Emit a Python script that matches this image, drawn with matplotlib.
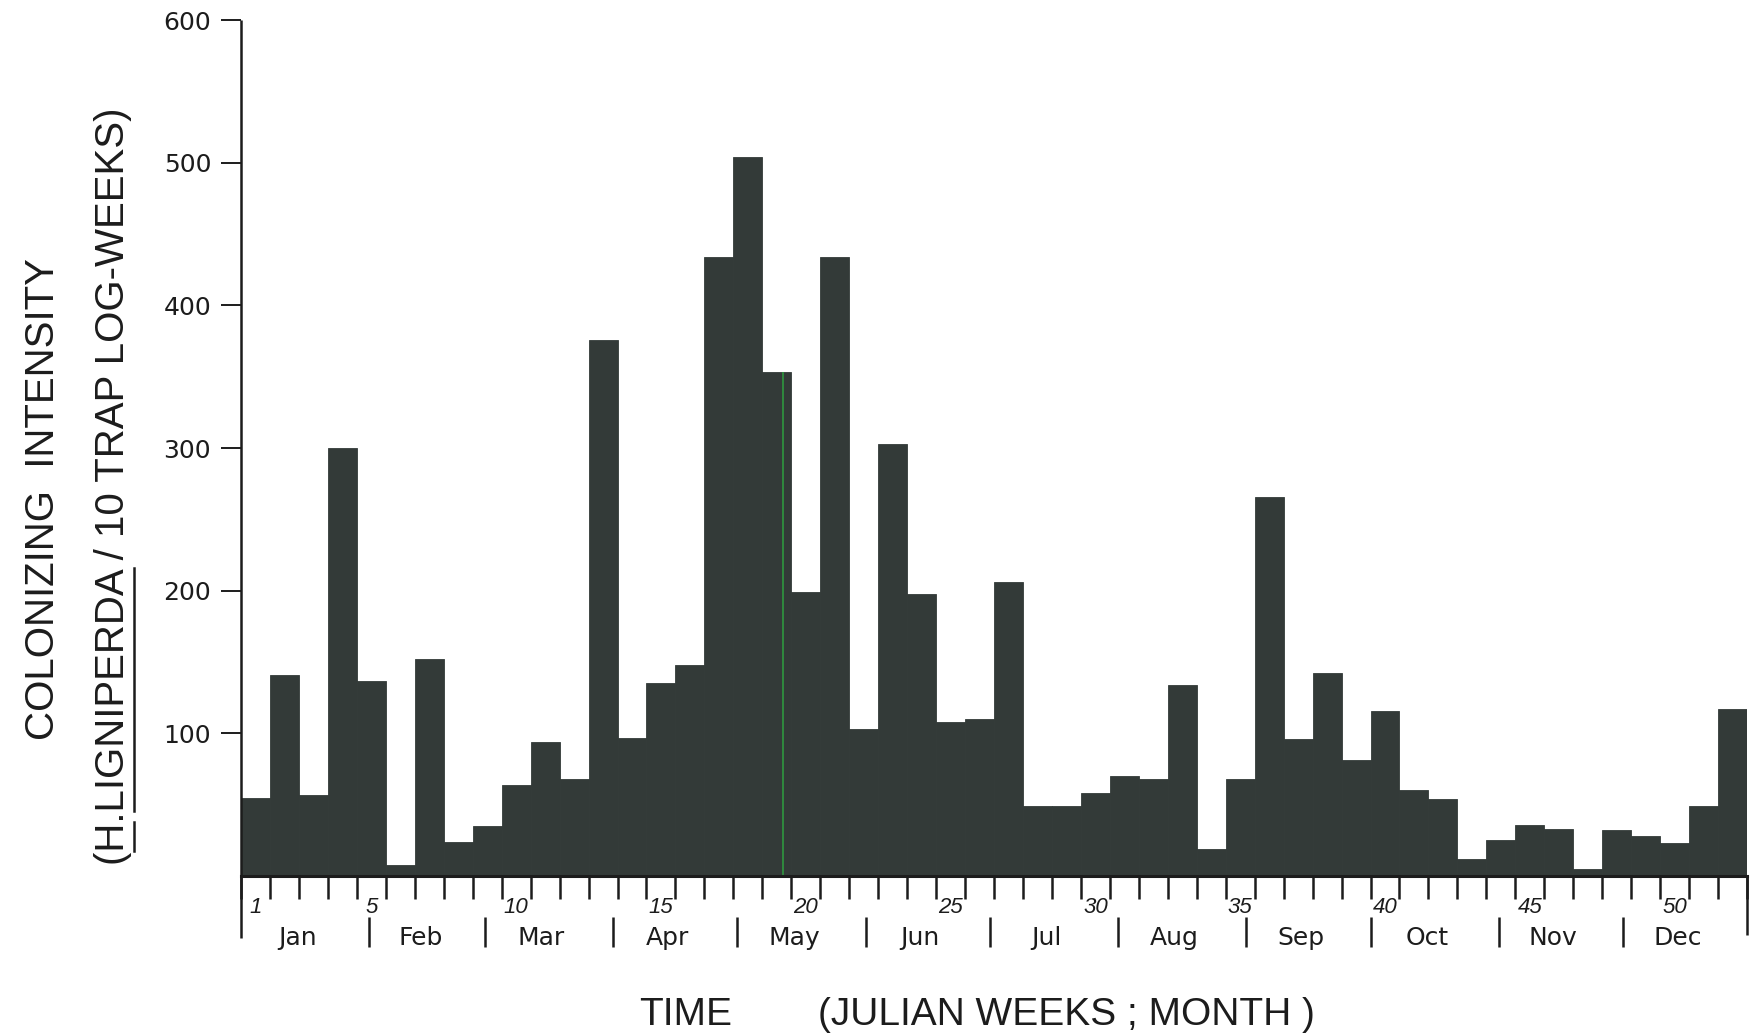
import matplotlib.pyplot as plt
from matplotlib.lines import Line2D
import numpy as np

# weekly colonizing intensity, Julian weeks 1-52
weeks = np.arange(1, 53)
intensity = [55, 141, 57, 300, 137, 8, 152, 24, 35, 64, 94, 68, 376,
             97, 135, 148, 434, 504, 353, 199, 434, 103, 303, 198, 108, 110,
             206, 49, 49, 58, 70, 68, 134, 19, 68, 266, 96, 142, 81, 116,
             60, 54, 12, 25, 36, 33, 5, 32, 28, 23, 49, 117]
week_labels = [1, 5, 10, 15, 20, 25, 30, 35, 40, 45, 50]
months = ['Jan', 'Feb', 'Mar', 'Apr', 'May', 'Jun',
          'Jul', 'Aug', 'Sep', 'Oct', 'Nov', 'Dec']
month_days = [31, 28, 31, 30, 31, 30, 31, 31, 30, 31, 30, 31]
y_ticks = [100, 200, 300, 400, 500, 600]

BAR = '#333a38'
INK = '#1c1c1c'
W, H = 1750, 1034

fig = plt.figure(figsize=(W / 100, H / 100), dpi=100)
ax = fig.add_axes([241 / W, 1 - 876 / H, (1747 - 241) / W, (876 - 20) / H])

ax.bar(weeks - 1, intensity, width=1, align='edge', color=BAR,
       edgecolor=BAR, linewidth=0.6)
# thin green streak running through week 19
ax.vlines(18.7, 0, intensity[18], color='#2f8a3e', lw=1.4)

ax.set_xlim(0, 52)
ax.set_ylim(0, 600)

for side in ('top', 'right', 'left'):
    ax.spines[side].set_visible(False)
ax.spines['bottom'].set_linewidth(2.2)
ax.spines['bottom'].set_color(INK)

ax.set_yticks(y_ticks)
ax.tick_params(axis='y', length=14.5, width=1.4, pad=7, labelsize=18,
               colors=INK)

# week boundaries as minor ticks, week numbers centred in their bar
ax.set_xticks(np.arange(0, 53), minor=True)
ax.set_xticks(np.array(week_labels) - 0.5)
ax.tick_params(axis='x', which='major', length=0, pad=15)
ax.tick_params(axis='x', which='minor', length=16.5, width=1.8,
               direction='out', color=INK)
ax.set_xticklabels([str(w) for w in week_labels], fontsize=16,
                   fontstyle='italic', family='Liberation Sans', color=INK)


def below(px):
    # data-y for a point px pixels under the baseline
    return -px * 600 / 856


ax.plot([0, 0], [below(62), 600], color=INK, lw=1.8, clip_on=False,
        solid_capstyle='butt')
ax.plot([52, 52], [0, below(59)], color=INK, lw=1.8, clip_on=False,
        solid_capstyle='butt')

starts = np.cumsum([0] + month_days[:-1]) / 7
ends = np.minimum(np.cumsum(month_days) / 7, 52)
for s in starts[1:]:
    ax.plot([s, s], [below(41), below(71)], color=INK, lw=1.8,
            clip_on=False, solid_capstyle='butt')
for name, s, e in zip(months, starts, ends):
    ax.text(s + 0.44 * (e - s), below(62), name, ha='center', va='center',
            fontsize=18, color=INK, clip_on=False)

# y-axis title, two rotated lines
lab = dict(rotation=90, rotation_mode='anchor', ha='center', va='baseline',
           fontsize=29, family='Liberation Sans', color=INK)
fig.text(54 / W, 1 - 499 / H, 'COLONIZING  INTENSITY', **lab)
unit_txt = '(H.LIGNIPERDA / 10 TRAP LOG-WEEKS)'
unit = fig.text(124 / W, 1 - 486 / H, unit_txt, **lab)

# underline the species name (skipping the period)
renderer = fig.canvas.get_renderer()
probe = fig.text(0, 0, '', fontsize=29, family='Liberation Sans')
widths = {}
for part in ['(', '(H', '(H.', '(H.LIGNIPERDA', unit_txt]:
    probe.set_text(part)
    widths[part] = probe.get_window_extent(renderer).width
probe.remove()
y0 = (H - 486) - widths[unit_txt] / 2
for a, b in [('(', '(H'), ('(H.', '(H.LIGNIPERDA')]:
    fig.add_artist(Line2D([134 / W, 134 / W],
                          [(y0 + widths[a]) / H, (y0 + widths[b]) / H],
                          color=INK, lw=1.8))

# x-axis title
fig.text(686 / W, 1 - 1025 / H, 'TIME', ha='center', va='baseline',
         fontsize=28, family='Liberation Sans', color=INK)
fig.text(1066 / W, 1 - 1025 / H, '(JULIAN WEEKS ; MONTH )', ha='center',
         va='baseline', fontsize=28, family='Liberation Sans', color=INK)

fig.savefig('out.png', dpi=100)
